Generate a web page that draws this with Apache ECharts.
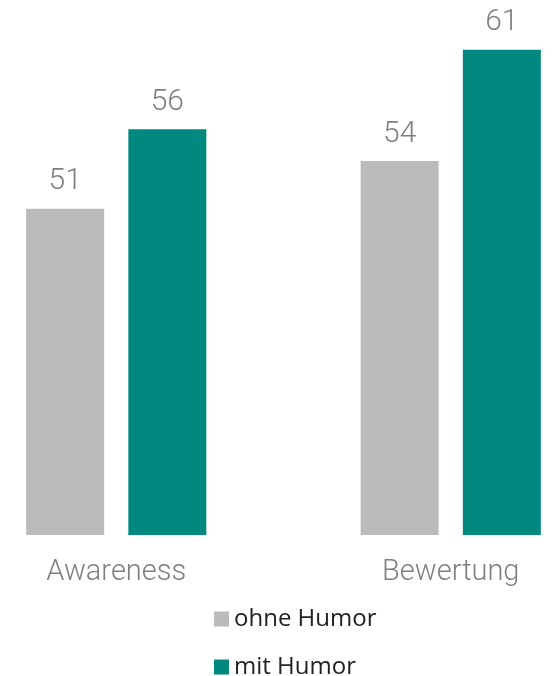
<!DOCTYPE html>
<html>
<head>
<meta charset="utf-8">
<style>
  html, body { margin: 0; padding: 0; background: #ffffff; overflow: hidden; width: 552px; height: 676px; }
  /* the plot is wider than the page so the two groups sit at the page's edges */
  #chart { position: absolute; left: -51px; top: 0; width: 669px; height: 676px; }
</style>
<script src="https://cdn.jsdelivr.net/npm/echarts@6/dist/echarts.min.js"></script>
</head>
<body>
<div id="chart"></div>
<script>
// Kategorien und Werte
const categories = ['Awareness', 'Bewertung'];
const seriesNames = ['ohne Humor', 'mit Humor'];
const ohneHumor = [51, 54];
const mitHumor = [56, 61];

const colors = ['#bbbbbb', '#01897f'];

const chart = echarts.init(document.getElementById('chart'), null, { renderer: 'canvas' });

const valueLabel = {
  show: true,
  position: 'top',
  distance: 12,
  color: '#7f7f7f',
  fontFamily: 'Roboto',
  fontWeight: 300,
  fontSize: 30
};

// one legend entry per row, stacked under the plot
function legendRow(name, top) {
  return {
    orient: 'vertical',
    left: 265,
    top: top,
    padding: 0,
    itemWidth: 15,
    itemHeight: 15,
    icon: 'rect',
    textStyle: { color: '#222222', fontFamily: 'Open Sans', fontSize: 24, lineHeight: 24 },
    data: [name]
  };
}

chart.setOption({
  animation: false,
  backgroundColor: '#ffffff',
  color: colors,
  grid: { left: 0, right: 0, top: 2, bottom: 141, containLabel: false },
  legend: [legendRow(seriesNames[0], 607), legendRow(seriesNames[1], 655)],
  xAxis: {
    type: 'category',
    data: categories,
    axisLine: { show: false },
    axisTick: { show: false },
    axisLabel: {
      margin: 23,
      color: '#7f7f7f',
      fontFamily: 'Roboto',
      fontWeight: 300,
      fontSize: 29
    }
  },
  yAxis: {
    type: 'value',
    min: 30.5,
    max: 64,
    show: false,
    splitLine: { show: false }
  },
  series: [
    {
      name: seriesNames[0],
      type: 'bar',
      data: ohneHumor,
      barWidth: 78,
      barGap: '31%',
      label: valueLabel
    },
    {
      name: seriesNames[1],
      type: 'bar',
      data: mitHumor,
      barWidth: 78,
      barGap: '31%',
      label: valueLabel
    }
  ]
});
</script>
</body>
</html>
